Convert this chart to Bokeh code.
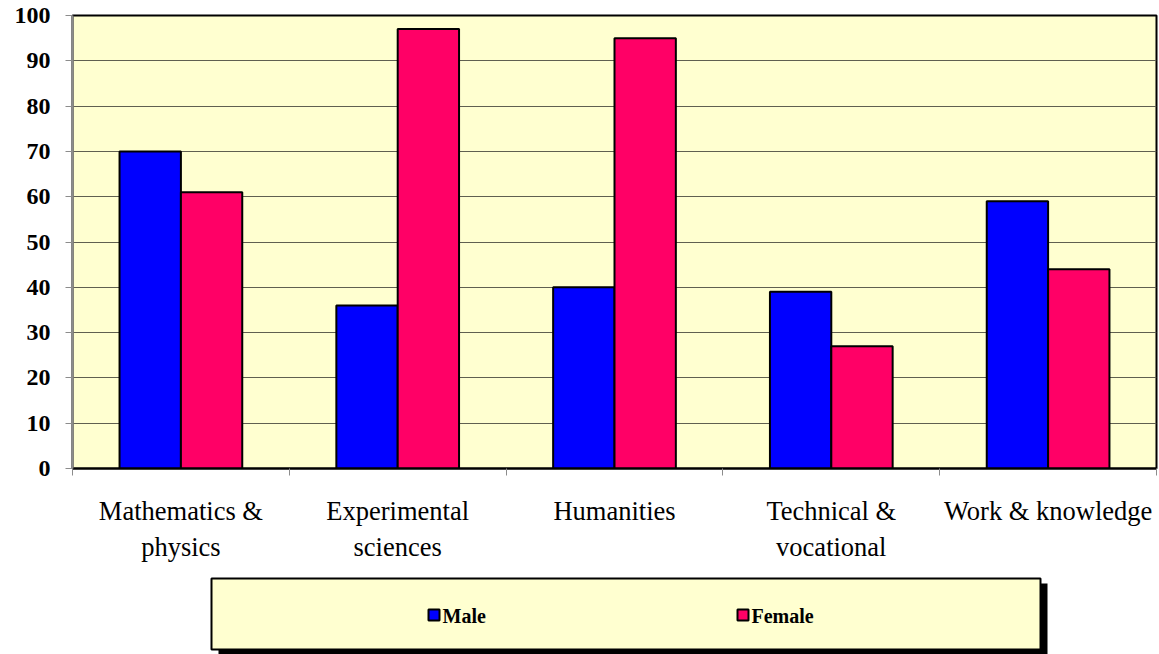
from bokeh.plotting import figure
from bokeh.models import Range1d, FixedTicker, ColumnDataSource
from bokeh.layouts import column
from bokeh.embed import file_html
from bokeh.resources import INLINE
from bokeh.core.properties import value

# ---- data ----
categories = ["Mathematics &\nphysics", "Experimental\nsciences", "Humanities",
              "Technical &\nvocational", "Work & knowledge"]
male = [70, 36, 40, 39, 59]
female = [61, 97, 95, 27, 44]
series = ["Male", "Female"]
colors = ["#0000FF", "#FF0066"]
y_ticks = [0, 10, 20, 30, 40, 50, 60, 70, 80, 90, 100]

FONT = "Liberation Serif"
W = 1159
BL, BR = 72, 3          # left / right borders of the plotting frame
n = len(categories)
centers = [i + 0.5 for i in range(n)]
bar_w = 0.283
offset = 0.1415

src = ColumnDataSource(dict(
    xm=[c - offset for c in centers],
    xf=[c + offset for c in centers],
    male=male, female=female,
))

p = figure(width=W, height=570, x_range=Range1d(0, n), y_range=Range1d(0, 100),
           output_backend="svg", toolbar_location=None,
           min_border_left=BL, min_border_right=BR, min_border_top=15, min_border_bottom=102,
           background_fill_color="#FFFFD0", border_fill_color="white")
p.outline_line_color = "black"
p.outline_line_width = 2

p.xgrid.visible = False
p.ygrid.ticker = FixedTicker(ticks=y_ticks, minor_ticks=[])
p.ygrid.grid_line_color = "#606050"
p.ygrid.grid_line_width = 1

p.vbar(x="xm", top="male", width=bar_w, source=src, fill_color=colors[0],
       line_color="black", line_width=2)
p.vbar(x="xf", top="female", width=bar_w, source=src, fill_color=colors[1],
       line_color="black", line_width=2)

ya = p.yaxis[0]
ya.ticker = FixedTicker(ticks=y_ticks, minor_ticks=[])
ya.axis_line_color = "#8c8c8c"
ya.axis_line_width = 2
ya.major_tick_line_color = "#8c8c8c"
ya.major_tick_line_width = 1
ya.major_tick_out = 7
ya.major_tick_in = 0
ya.minor_tick_line_color = None
ya.major_label_text_font = FONT
ya.major_label_text_font_style = "bold"
ya.major_label_text_font_size = "24px"
ya.major_label_text_color = "black"
ya.major_label_standoff = 15

xa = p.xaxis[0]
xa.ticker = FixedTicker(ticks=centers, minor_ticks=list(range(n + 1)))
xa.major_label_overrides = {c: lab for c, lab in zip(centers, categories)}
xa.major_tick_line_color = None
xa.major_tick_out = 0
xa.major_tick_in = 0
xa.minor_tick_line_color = "#8c8c8c"
xa.minor_tick_out = 7
xa.minor_tick_in = 0
xa.axis_line_color = "black"
xa.axis_line_width = 2
xa.major_label_text_font = FONT
xa.major_label_text_font_size = "26.5px"
xa.major_label_text_color = "black"
xa.major_label_standoff = 20

# ---- legend panel (frame aligned with the chart; data units = page pixels) ----
L = figure(width=W, height=84, x_range=Range1d(BL, W - BR), y_range=Range1d(654, 570),
           output_backend="svg", toolbar_location=None,
           x_axis_location=None, y_axis_location=None,
           min_border_left=BL, min_border_right=BR, min_border_top=0, min_border_bottom=0,
           border_fill_color="white", background_fill_color="white")
L.outline_line_color = None
L.grid.visible = False

box_l, box_r, box_t, box_b = 211, 1040, 578, 649
L.quad(left=box_l + 7, right=box_r + 7, top=box_t + 5, bottom=box_b + 5,
       fill_color="black", line_color=None)
L.quad(left=box_l, right=box_r, top=box_t, bottom=box_b,
       fill_color="#FFFFD0", line_color="black", line_width=2)

sw_left = [box_l + 217 + 309 * i for i in range(len(series))]
cy = 615
L.quad(left=sw_left, right=[s + 11 for s in sw_left], top=[cy - 6] * len(series),
       bottom=[cy + 5] * len(series), fill_color=colors, line_color="black", line_width=2)
L.text(x=[s + 14 for s in sw_left], y=[cy] * len(series), text=series,
       text_font=value(FONT), text_font_style="bold", text_font_size="20px",
       text_baseline="middle", text_align="left", text_color="black")

layout = column(p, L, spacing=0)
open("out.html", "w").write(file_html(layout, INLINE))
